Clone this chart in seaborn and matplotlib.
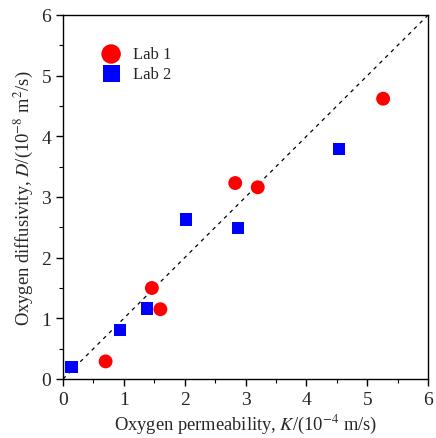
import matplotlib
matplotlib.use("Agg")
import matplotlib.pyplot as plt
import seaborn as sns
import pandas as pd
from matplotlib.ticker import MultipleLocator

lab1_K = [0.70, 1.46, 1.60, 2.83, 3.20, 5.26]
lab1_D = [0.29, 1.50, 1.15, 3.23, 3.16, 4.62]
lab2_K = [0.14, 0.94, 1.38, 2.02, 2.87, 4.53]
lab2_D = [0.20, 0.81, 1.16, 2.63, 2.49, 3.79]
labels = ["Lab 1", "Lab 2"]
ticks = [0, 1, 2, 3, 4, 5, 6]

sns.set_style("ticks")
plt.rcParams["font.family"] = ["Liberation Serif", "DejaVu Serif"]
plt.rcParams["mathtext.fontset"] = "stix"

df1 = pd.DataFrame({"K": lab1_K, "D": lab1_D})
df2 = pd.DataFrame({"K": lab2_K, "D": lab2_D})

fig = plt.figure(figsize=(4.36, 4.39), dpi=100)
ax = fig.add_axes([0.1445, 0.1344, 0.8375, 0.8292])

ax.plot([0, 6], [0, 6], color="black", linestyle=(0, (3, 3.5)), linewidth=0.9, zorder=1)

sns.scatterplot(data=df1, x="K", y="D", color="#ff0000", marker="o", s=100,
                edgecolor="none", linewidth=0, ax=ax, zorder=3, label=labels[0])
sns.scatterplot(data=df2, x="K", y="D", color="#0000ff", marker="s", s=78,
                edgecolor="none", linewidth=0, ax=ax, zorder=3, label=labels[1])

ax.set_xlim(0, 6)
ax.set_ylim(0, 6)
ax.set_xticks(ticks)
ax.set_yticks(ticks)
ax.xaxis.set_minor_locator(MultipleLocator(0.5))
ax.yaxis.set_minor_locator(MultipleLocator(0.5))
ax.tick_params(which="major", direction="out", length=5, width=1, labelsize=14, color="black")
ax.tick_params(which="minor", direction="out", length=3, width=0.8, color="black")
ax.tick_params(top=False, right=False)
for sp in ax.spines.values():
    sp.set_visible(True)
    sp.set_color("black")
    sp.set_linewidth(1.0)

ax.set_xlabel(r"Oxygen permeability, $K$/(10$^{-4}$ m/s)", fontsize=13.3, labelpad=4)
ax.set_ylabel(r"Oxygen diffusivity, $D$/(10$^{-8}$ m$^{2}$/s)", fontsize=13.3, labelpad=4)

leg = ax.legend(loc="upper left", bbox_to_anchor=(0.045, 0.955), frameon=False,
                fontsize=12, handletextpad=0.3, markerscale=1.4, labelspacing=0.2)

fig.savefig("out.png", dpi=100)
